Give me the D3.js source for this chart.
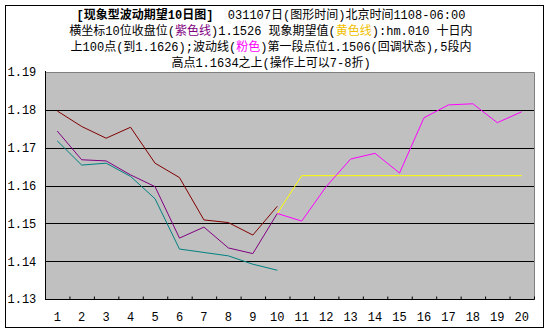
<!DOCTYPE html>
<html>
<head>
<meta charset="utf-8">
<script src="https://cdn.jsdelivr.net/npm/d3@7"></script>
<style>
  body { margin: 0; background: #fff; }
  svg { display: block; }
</style>
</head>
<body>
<svg id="chart"></svg>
<script>
let days = d3.range(1, 21)
let yTicks = [1.13, 1.14, 1.15, 1.16, 1.17, 1.18, 1.19]

// first 10 days
let redLine = [1.1797, 1.1756, 1.1725, 1.1754, 1.1659, 1.1621, 1.1509, 1.1502, 1.1469, 1.1545]
let purpleLine = [1.1744, 1.1668, 1.1665, 1.1628, 1.1597, 1.1461, 1.1490, 1.1435, 1.1420, 1.1526]
let tealLine = [1.1718, 1.1654, 1.1659, 1.1624, 1.1565, 1.1432, 1.1423, 1.1414, 1.1392, 1.1376]
// day 10 to 20
let yellowLine = [1.1526, 1.1626, 1.1626, 1.1626, 1.1626, 1.1626, 1.1626, 1.1626, 1.1626, 1.1626, 1.1626]
let pinkLine = [1.1526, 1.1506, 1.1597, 1.1670, 1.1685, 1.1633, 1.1779, 1.1813, 1.1816, 1.1766, 1.1795]

let width = 550
let height = 333
let plotL = 45, plotR = 534, plotT = 72, plotB = 299

let svg = d3.select('#chart').attr('width', width).attr('height', height)

let xScale = d3.scaleBand().domain(days).range([plotL, plotR])
let yScale = d3.scaleLinear().domain([1.13, 1.19]).range([plotB, plotT])
let cx = (d) => xScale(d) + xScale.bandwidth() / 2

// outer frame
svg.append('rect')
   .attr('x', 5.5).attr('y', 5.5)
   .attr('width', 538).attr('height', 322)
   .attr('fill', 'none').attr('stroke', '#000')

// title: monospace latin + CJK fallback, like the old bitmap font
let titleFont = '"Liberation Mono", "Noto Sans CJK SC", monospace'
let titleLines = [
  [['[现象型波动期望10日图]', '#000', true], ['  031107日(图形时间)北京时间1108-06:00', '#000']],
  [['横坐标10位收盘位(', '#000'], ['紫色线', '#800080'], [')1.1526 现象期望值(', '#000'], ['黄色线', '#F0C000'], ['):hm.010 十日内', '#000']],
  [['上100点(到1.1626);波动线(', '#000'], ['粉色', '#FF00FF'], [')第一段点位1.1506(回调状态),5段内', '#000']],
  [['高点1.1634之上(操作上可以7-8折)', '#000']]
]
titleLines.forEach((parts, i) => {
  let t = svg.append('text')
     .attr('x', 271).attr('y', 19 + i * 16)
     .attr('text-anchor', 'middle')
     .style('font-family', titleFont).style('font-size', '12px')
     .style('white-space', 'pre')
  parts.forEach((p) => {
    t.append('tspan').text(p[0]).attr('fill', p[1])
     .style('font-weight', p[2] ? 'bold' : 'normal')
  })
})

// plot area
svg.append('rect')
   .attr('x', plotL).attr('y', plotT)
   .attr('width', plotR - plotL).attr('height', plotB - plotT)
   .attr('fill', '#C0C0C0')
svg.append('path')
   .attr('d', 'M' + plotL + ',' + (plotT + 0.5) + 'H' + (plotR + 0.5) + 'V' + plotB)
   .attr('fill', 'none').attr('stroke', '#808080')

// grid
svg.append('g')
   .selectAll('line')
   .data(yTicks.slice(1, -1))
   .enter()
   .append('line')
   .attr('x1', plotL).attr('x2', plotR)
   .attr('y1', (d) => Math.round(yScale(d)) + 0.5)
   .attr('y2', (d) => Math.round(yScale(d)) + 0.5)
   .attr('stroke', '#000')

let mono = '"Liberation Mono", monospace'

// y axis
let yAxis = d3.axisLeft(yScale).tickValues(yTicks).tickSize(0).tickFormat(d3.format('.2f'))
let gy = svg.append('g').attr('transform', 'translate(' + (plotL + 0.5) + ',0)').call(yAxis)
gy.select('.domain').attr('stroke', '#000').attr('d', 'M0,' + (plotT - 1) + 'V' + plotB)
gy.selectAll('text')
  .attr('x', 7 - plotL).attr('text-anchor', 'start')
  .style('font-family', mono).style('font-size', '12px').attr('fill', '#000')

// x axis: labels at band centres
let xAxis = d3.axisBottom(xScale).tickSize(0)
let gx = svg.append('g').attr('transform', 'translate(0,' + (plotB + 0.5) + ')').call(xAxis)
gx.select('.domain').remove()
gx.selectAll('text')
  .attr('y', 17).attr('dy', '0.35em')
  .style('font-family', mono).style('font-size', '12px').attr('fill', '#000')

// x axis: tick marks at band edges
let edgeScale = d3.scaleLinear().domain([0, 20]).range([plotL, plotR])
let gx2 = svg.append('g').attr('transform', 'translate(0,' + (plotB + 0.5) + ')')
  .call(d3.axisBottom(edgeScale).ticks(20).tickSizeInner(-3).tickSizeOuter(0).tickFormat(''))
gx2.select('.domain').attr('stroke', '#000').attr('d', 'M' + plotL + ',0H' + (plotR + 0.5))
gx2.selectAll('.tick line').attr('stroke', '#000')

// lines
let line = d3.line().x((d) => cx(d[0])).y((d) => yScale(d[1]))
let series = [
  [redLine, 1, '#800000'],
  [purpleLine, 1, '#800080'],
  [tealLine, 1, '#008080'],
  [yellowLine, 10, '#FFFF00'],
  [pinkLine, 10, '#FF00FF']
]
series.forEach((s) => {
  let pts = s[0].map((v, i) => [s[1] + i, v])
  svg.append('path')
     .attr('d', line(pts))
     .attr('fill', 'none')
     .attr('stroke', s[2])
     .attr('stroke-width', 1)
})
</script>
</body>
</html>
